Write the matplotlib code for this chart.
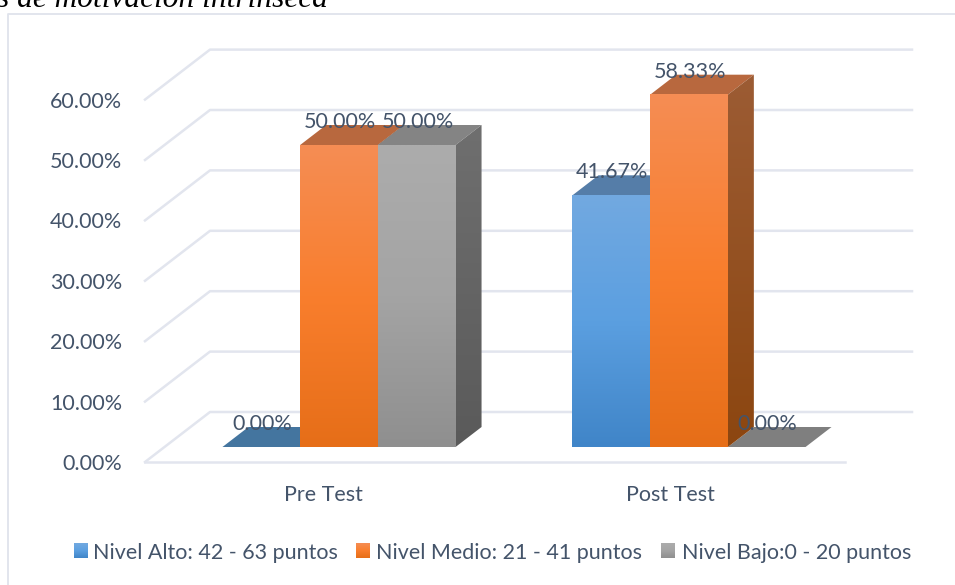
import numpy as np
import matplotlib
matplotlib.use('Agg')
import matplotlib.pyplot as plt
from matplotlib.colors import LinearSegmentedColormap
from matplotlib.patches import Polygon

groups = ['Pre Test', 'Post Test']
series = ['Nivel Alto: 42 - 63 puntos', 'Nivel Medio: 21 - 41 puntos', 'Nivel Bajo:0 - 20 puntos']
alto = [0.0, 41.67]
medio = [50.0, 58.33]
bajo = [50.0, 0.0]
yticks = [0, 10, 20, 30, 40, 50, 60]

# front gradient (top, middle, bottom), side (top, bottom), roof
front_cols = [['#72a9e0', '#5b9fe0', '#4085c8'],
              ['#f58d54', '#f97e2d', '#e66e18'],
              ['#acacac', '#a4a4a4', '#8f8f8f']]
side_cols = [['#4a78a6', '#3a6a98'], ['#9c5c34', '#8c4610'], ['#6f6f6f', '#5a5a5a']]
roof_cols = ['#557da8', '#b8683e', '#848484']
zero_cols = ['#44759f', '#b8683e', '#7f7f7f']
text_col = '#44546a'
grid_col = '#e2e5ee'
fs = 15.5

# one category = 350 px, 1 percent = 6.04 px
px_x = 350.0
px_y = 6.04
x0 = 339.0
y0 = 447.0
bar_w = 77.7 / px_x
depth_x = 26.0 / px_x
depth_y = 20.0 / px_y
text_drop = 2.0 / px_y


def X(p):
    return (p - x0) / px_x


def Y(p):
    return (y0 - p) / px_y


def grad(ax, x1, x2, y1, y2, cols, clip=None, z=2):
    cm = LinearSegmentedColormap.from_list('g', cols)
    im = ax.imshow(np.linspace(0, 1, 256).reshape(-1, 1), cmap=cm, aspect='auto',
                   extent=[x1, x2, y1, y2], origin='upper', zorder=z, interpolation='bilinear')
    if clip is not None:
        p = Polygon(clip, closed=True, transform=ax.transData, fc='none', ec='none')
        ax.add_patch(p)
        im.set_clip_path(p)


plt.rcParams['font.family'] = ['Lato', 'DejaVu Sans']
fig = plt.figure(figsize=(9.55, 5.85), dpi=100)
ax = fig.add_axes([0, 0, 1, 1])

# chart frame, only left and top are inside the crop
ax.plot([X(8), X(8), X(955)], [Y(585), Y(14), Y(14)], color='#dfe3ec', lw=1.3, zorder=1)

# grid, walls and floor
for t in yticks:
    lo = t + Y(462)
    hi = t + Y(412)
    ax.plot([X(145), X(210), X(912)], [lo, hi, hi], color=grid_col, lw=1.8, zorder=1)
    ax.text(X(122.5), lo - text_drop, '%.2f%%' % t, ha='right', va='center', fontsize=fs, color=text_col, zorder=6)
ax.plot([X(145), X(845)], [Y(462), Y(462)], color=grid_col, lw=1.8, zorder=1)

data = [alto, medio, bajo]
for g in range(len(groups)):
    for s in range(3):
        v = data[s][g]
        left = g + (s - 1.5) * bar_w
        right = left + bar_w
        if v == 0:
            ax.add_patch(Polygon([(left, 0), (right, 0), (right + depth_x, depth_y), (left + depth_x, depth_y)],
                                 closed=True, fc=zero_cols[s], ec='none', zorder=2))
            continue
        # roof, side, front
        ax.add_patch(Polygon([(left, v), (right, v), (right + depth_x, v + depth_y), (left + depth_x, v + depth_y)],
                             closed=True, fc=roof_cols[s], ec='none', zorder=3))
        side = [(right, 0), (right + depth_x, depth_y), (right + depth_x, v + depth_y), (right, v)]
        grad(ax, right, right + depth_x, 0, v + depth_y, side_cols[s], clip=side, z=3)
        grad(ax, left, right, 0, v, front_cols[s], z=4)

# data labels
lab_x = [[262, 340, 418], [612, 690, 767]]
lab_off = 4.15
for g in range(len(groups)):
    for s in range(3):
        v = data[s][g]
        ax.text(X(lab_x[g][s]), v + lab_off - text_drop, '%.2f%%' % v, ha='center', va='center',
                fontsize=fs, color=text_col, zorder=6)

# category labels
cat_x = [323, 670]
for g in range(len(groups)):
    ax.text(X(cat_x[g]), Y(495), groups[g], ha='center', va='center', fontsize=fs, color=text_col, zorder=6)

# legend
sw_x = [74, 356, 661]
tx_x = [93, 376, 682]
for s in range(3):
    grad(ax, X(sw_x[s]), X(sw_x[s] + 14), Y(558), Y(544), front_cols[s], z=5)
    ax.text(X(tx_x[s]), Y(553), series[s], ha='left', va='center', fontsize=fs, color=text_col, zorder=6)

# caption of the page above the chart, cut by the crop
ax.text(X(-3), Y(7), 's de motivación intrínseca', ha='left', va='baseline', fontsize=22.6,
        family='Liberation Serif', style='italic', color='black', zorder=6)

ax.set_xlim(X(0), X(955))
ax.set_ylim(Y(585), Y(0))
ax.axis('off')
fig.savefig('out.png', dpi=100, facecolor='white')
